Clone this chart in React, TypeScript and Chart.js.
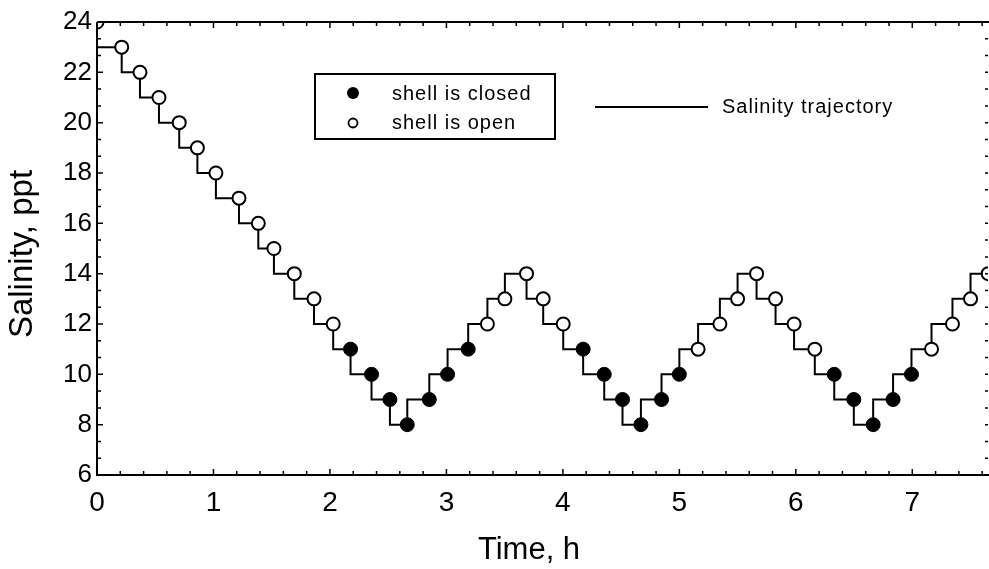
import React, { useEffect, useRef } from 'react';
import { Chart, registerables } from 'chart.js';

Chart.register(...registerables);

// ---- data ----
const timeHours = [
  0, 0.212, 0.369, 0.532, 0.706, 0.862, 1.021, 1.219, 1.385, 1.519, 1.694, 1.863, 2.028,
  2.177, 2.357, 2.515, 2.664, 2.853, 3.01, 3.187,
  3.352, 3.502, 3.688, 3.831, 4.003,
  4.174, 4.355, 4.512, 4.67, 4.847, 5.0,
  5.161, 5.348, 5.5, 5.663, 5.826, 5.985, 6.163,
  6.33, 6.498, 6.664, 6.835, 6.993,
  7.165, 7.345, 7.5, 7.652,
];
const salinityPpt = [
  24, 23, 22, 21, 20, 19, 18, 17, 16, 15, 14, 13, 12,
  11, 10, 9, 8, 9, 10, 11,
  12, 13, 14, 13, 12,
  11, 10, 9, 8, 9, 10,
  11, 12, 13, 14, 13, 12, 11,
  10, 9, 8, 9, 10,
  11, 12, 13, 14,
];
// 'o' = shell is open, 'c' = shell is closed
const shellState = [
  'o', 'o', 'o', 'o', 'o', 'o', 'o', 'o', 'o', 'o', 'o', 'o', 'o',
  'c', 'c', 'c', 'c', 'c', 'c', 'c',
  'o', 'o', 'o', 'o', 'o',
  'c', 'c', 'c', 'c', 'c', 'c',
  'o', 'o', 'o', 'o', 'o', 'o', 'o',
  'c', 'c', 'c', 'c', 'c',
  'o', 'o', 'o', 'o',
];
const xTickValues = [0, 1, 2, 3, 4, 5, 6, 7];
const yTickValues = [6, 8, 10, 12, 14, 16, 18, 20, 22, 24];
const xRange = [0, 7.65];
const yRange = [6, 24];
const xTitle = 'Time, h';
const yTitle = 'Salinity, ppt';
const legendClosed = 'shell is closed';
const legendOpen = 'shell is open';
const legendLine = 'Salinity trajectory';

const FONT = '"Liberation Sans", Arial, Helvetica, sans-serif';

const framePlugin = {
  id: 'frameAndLegend',
  afterDraw(chart: any) {
    const { ctx, chartArea } = chart;
    const xs = chart.scales.x;
    const ys = chart.scales.y;
    const { left, right, top, bottom } = chartArea;
    ctx.save();
    ctx.strokeStyle = '#000';
    ctx.fillStyle = '#000';
    // frame
    ctx.lineWidth = 2;
    ctx.beginPath();
    ctx.moveTo(left, top);
    ctx.lineTo(left, bottom);
    ctx.lineTo(chart.width, bottom);
    ctx.moveTo(left, top);
    ctx.lineTo(chart.width, top);
    ctx.stroke();
    // inward ticks
    ctx.lineWidth = 1.5;
    ctx.beginPath();
    for (let v = xRange[0]; v <= xRange[1] + 1e-6; v += 0.2) {
      const px = xs.getPixelForValue(v);
      const major = Math.abs(v - Math.round(v)) < 1e-6;
      const len = major ? 6 : 4;
      ctx.moveTo(px, bottom);
      ctx.lineTo(px, bottom - len);
      ctx.moveTo(px, top);
      ctx.lineTo(px, top + len);
    }
    for (let v = yRange[0]; v <= yRange[1] + 1e-6; v += 2 / 3) {
      const py = ys.getPixelForValue(v);
      const major = Math.abs(v / 2 - Math.round(v / 2)) < 1e-6;
      const len = major ? 6 : 4;
      ctx.moveTo(left, py);
      ctx.lineTo(left + len, py);
      ctx.moveTo(right, py);
      ctx.lineTo(right - 3, py);
    }
    ctx.stroke();

    // axis titles
    ctx.textAlign = 'center';
    ctx.textBaseline = 'middle';
    ctx.font = `31px ${FONT}`;
    ctx.fillText(xTitle, 529, 550);
    ctx.save();
    ctx.translate(23, 254);
    ctx.rotate(-Math.PI / 2);
    ctx.font = `33px ${FONT}`;
    ctx.fillText(yTitle, 0, 0);
    ctx.restore();

    // legend box
    ctx.lineWidth = 2;
    ctx.strokeRect(315, 74, 240, 65);
    ctx.beginPath();
    ctx.arc(353, 93, 6, 0, Math.PI * 2);
    ctx.fill();
    ctx.beginPath();
    ctx.arc(353, 123, 4.5, 0, Math.PI * 2);
    ctx.fillStyle = '#fff';
    ctx.fill();
    ctx.lineWidth = 1.8;
    ctx.stroke();
    ctx.fillStyle = '#000';
    ctx.font = `20px ${FONT}`;
    try { (ctx as any).letterSpacing = '1px'; } catch (e) { /* ignore */ }
    ctx.textBaseline = 'middle';
    ctx.textAlign = 'left';
    ctx.fillText(legendClosed, 392, 94);
    ctx.fillText(legendOpen, 392, 123);
    // line legend
    ctx.lineWidth = 2;
    ctx.beginPath();
    ctx.moveTo(595, 107);
    ctx.lineTo(708, 107);
    ctx.stroke();
    ctx.fillText(legendLine, 722, 107);
    ctx.restore();
  },
};

export default function App() {
  const canvasRef = useRef<HTMLCanvasElement | null>(null);

  useEffect(() => {
    if (!canvasRef.current) return;
    const allPts = timeHours.map((t, i) => ({ x: t, y: salinityPpt[i] }));
    const closedPts = allPts.filter((_, i) => shellState[i] === 'c');
    const openPts = allPts.filter((_, i) => shellState[i] === 'o');

    const chart = new Chart(canvasRef.current, {
      type: 'line',
      data: {
        datasets: [
          {
            label: legendClosed,
            data: closedPts,
            showLine: false,
            pointRadius: 7,
            pointBackgroundColor: '#000',
            pointBorderColor: '#000',
            pointBorderWidth: 1,
            clip: 0,
            order: 1,
          } as any,
          {
            label: legendOpen,
            data: openPts,
            showLine: false,
            pointRadius: 6.5,
            pointBackgroundColor: '#fff',
            pointBorderColor: '#000',
            pointBorderWidth: 2,
            clip: 0,
            order: 1,
          } as any,
          {
            label: legendLine,
            data: allPts,
            stepped: 'after',
            borderColor: '#000',
            borderWidth: 2,
            pointRadius: 0,
            fill: false,
            clip: 0,
            order: 2,
          } as any,
        ],
      },
      options: {
        responsive: false,
        animation: false,
        events: [],
        layout: { autoPadding: false, padding: { top: 22, right: 1, left: 0, bottom: 0 } },
        plugins: { legend: { display: false }, tooltip: { enabled: false } },
        scales: {
          x: {
            type: 'linear',
            min: xRange[0],
            max: xRange[1],
            afterBuildTicks: (s: any) => {
              s.ticks = xTickValues.map((v) => ({ value: v }));
            },
            afterFit: (s: any) => {
              s.height = 94;
              s.paddingLeft = 0;
              s.paddingRight = 0;
            },
            grid: { display: false, drawTicks: false },
            border: { display: false },
            ticks: {
              color: '#000',
              padding: 11,
              maxRotation: 0,
              font: { family: FONT, size: 28 },
              callback: (v: any) => String(v),
            },
            title: { display: false },
          },
          y: {
            type: 'linear',
            min: yRange[0],
            max: yRange[1],
            afterBuildTicks: (s: any) => {
              s.ticks = yTickValues.map((v) => ({ value: v }));
            },
            afterFit: (s: any) => {
              s.width = 97;
              s.paddingTop = 0;
              s.paddingBottom = 0;
            },
            grid: { display: false, drawTicks: false },
            border: { display: false },
            ticks: {
              color: '#000',
              padding: 5,
              font: { family: FONT, size: 26 },
              callback: (v: any) => String(v),
            },
            title: { display: false },
          },
        },
      },
      plugins: [framePlugin],
    });
    return () => chart.destroy();
  }, []);

  return (
    <div style={{ position: 'fixed', left: 0, top: 0, width: 989, height: 569, background: '#fff' }}>
      <canvas ref={canvasRef} width={989} height={569} style={{ display: 'block' }} />
    </div>
  );
}
